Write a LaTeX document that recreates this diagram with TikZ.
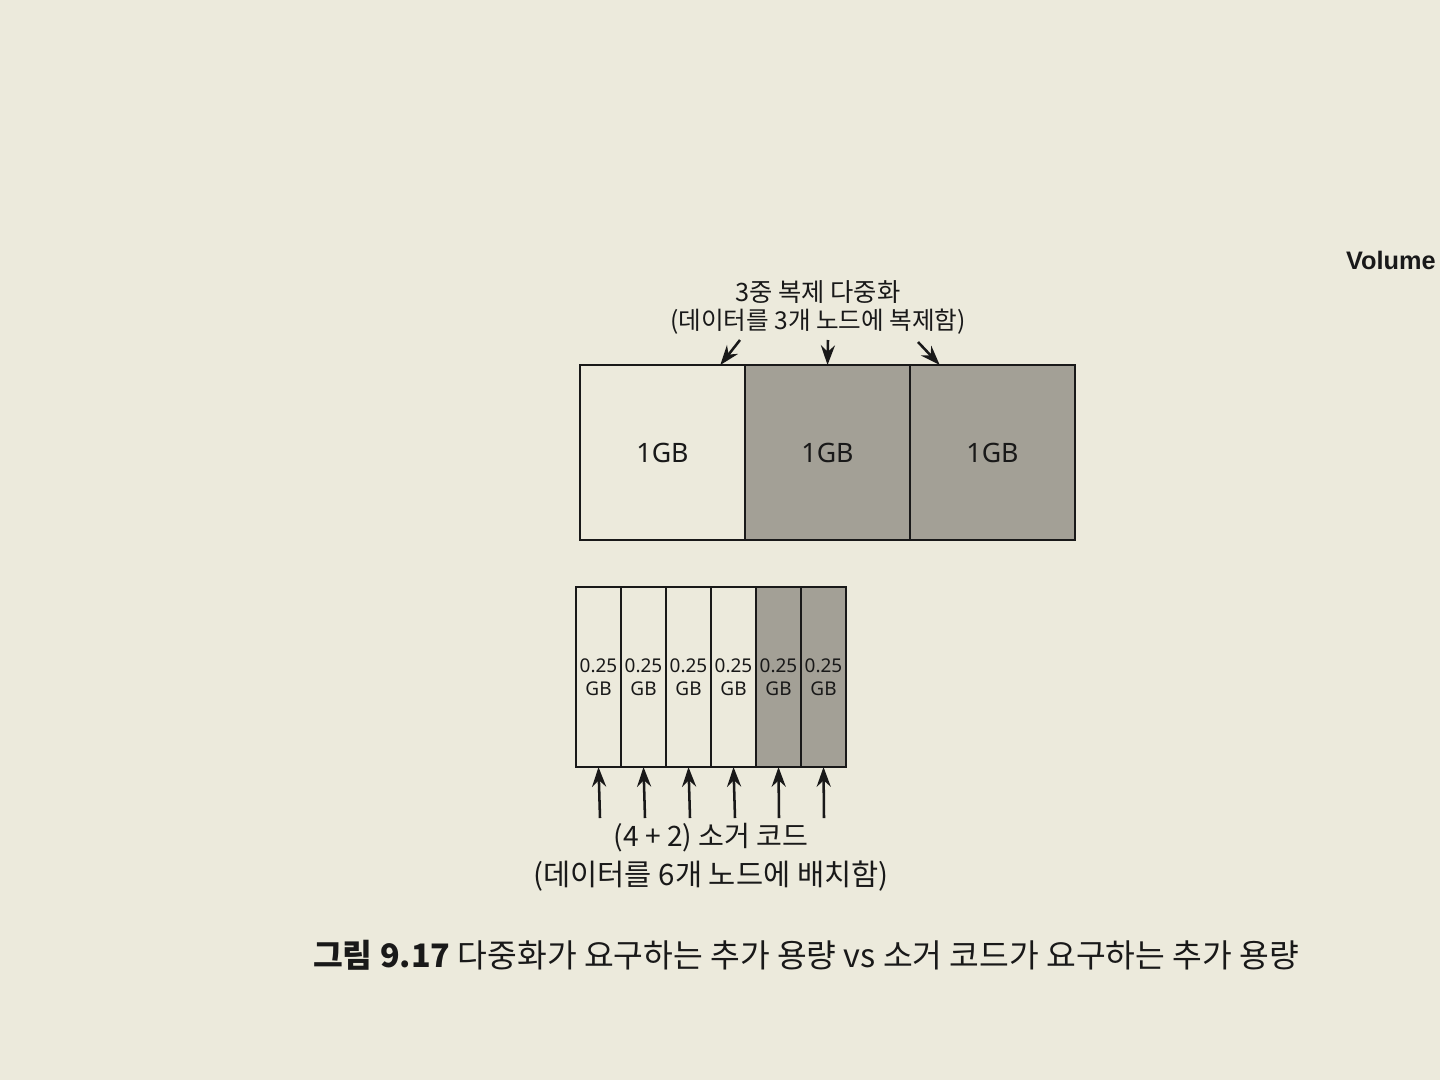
\documentclass[tikz,border=0pt]{standalone}
\usepackage{fontspec}
\setmainfont{Noto Sans CJK KR}
\newfontfamily\kr{Noto Sans CJK KR}
\newfontfamily\latin{Noto Sans}
\newfontfamily\hdrfont{Liberation Sans}
\usetikzlibrary{arrows.meta,calc}
\definecolor{paper}{RGB}{236,234,220}
\definecolor{shade}{RGB}{163,160,150}
\definecolor{ink}{RGB}{25,25,25}
\tikzset{
  px/.style={x=0.025cm,y=-0.025cm},
  bigcell/.style={draw=ink,line width=2pt,minimum width=4.125cm,minimum height=4.375cm,inner sep=0pt,outer sep=0pt,anchor=north west,font=\latin\fontsize{19}{22}\selectfont,text=ink},
  smallcell/.style={draw=ink,line width=2pt,minimum width=1.125cm,minimum height=4.5cm,inner sep=0pt,outer sep=0pt,anchor=north west,font=\latin\fontsize{13.5}{16}\selectfont,text=ink,align=center},
  shaded/.style={fill=shade},
  arr/.style={draw=ink,line width=1.8pt,-{Stealth[length=14pt,width=10pt]}},
  lbl/.style={text=ink,align=center,inner sep=0pt},
}
\begin{document}
\begin{tikzpicture}[px]
\useasboundingbox (0,0) rectangle (1440,1080);
\fill[paper] (0,0) rectangle (1440,1080);
% header fragment
\node[lbl,anchor=east,font=\hdrfont\bfseries\fontsize{18}{21}\selectfont] (hdr) at (1436,260) {Volume};
% top label
\node[lbl,font=\kr\fontsize{18}{21}\selectfont] (t1) at (818,292) {3중 복제 다중화};
\node[lbl,font=\kr\fontsize{17.5}{20}\selectfont] (t2) at (818,322) {(데이터를 3개 노드에 복제함)};
% top cells
\node[bigcell] (c1) at (580,365) {1GB};
\node[bigcell,shaded] (c2) at (745,365) {1GB};
\node[bigcell,shaded] (c3) at (910,365) {1GB};
\coordinate (a1) at (740,340);
\coordinate (a2) at (828,340);
\coordinate (a3) at (918,342);
\draw[arr] (a1) -- ($(c1.north west)!0.85!(c1.north east)$);
\draw[arr] (a2) -- (c2.north);
\draw[arr] (a3) -- ($(c3.north west)!0.18!(c3.north east)$);
% bottom cells
\node[smallcell] (b1) at (576,587) {0.25\\GB};
\node[smallcell] (b2) at (621,587) {0.25\\GB};
\node[smallcell] (b3) at (666,587) {0.25\\GB};
\node[smallcell] (b4) at (711,587) {0.25\\GB};
\node[smallcell,shaded] (b5) at (756,587) {0.25\\GB};
\node[smallcell,shaded] (b6) at (801,587) {0.25\\GB};
\foreach \i/\x in {1/600,2/645,3/690,4/735,5/779,6/824}{
  \coordinate (d\i) at (\x,818);
  \draw[arr] (d\i) -- (b\i.south);
}
\node[lbl,font=\kr\fontsize{20}{23}\selectfont] (e1) at (711,838) {(4 + 2) 소거 코드};
\node[lbl,font=\kr\fontsize{21}{24}\selectfont] (e2) at (711,876) {(데이터를 6개 노드에 배치함)};
% caption
\node[lbl,font=\kr\fontsize{23}{26}\selectfont] (cap) at (806,955) {{\bfseries 그림 9.17} 다중화가 요구하는 추가 용량 vs 소거 코드가 요구하는 추가 용량};
\end{tikzpicture}
\end{document}
